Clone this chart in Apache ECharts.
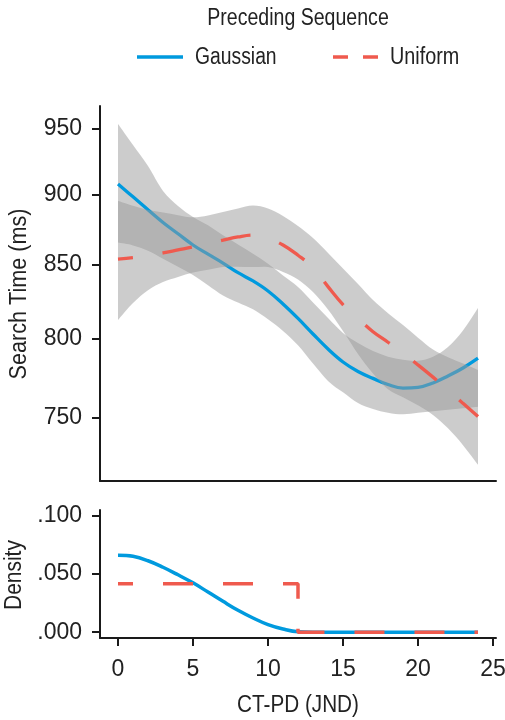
<!DOCTYPE html>
<html>
<head>
<meta charset="utf-8">
<script src="https://cdn.jsdelivr.net/npm/echarts@6/dist/echarts.min.js"></script>
<style>html,body{margin:0;padding:0;background:#fff}#c{width:505px;height:720px}</style>
</head>
<body>
<div id="c"></div>
<script>
// ---- data ----
const ctpd = [0,1,2,3,4,5,6,7,8,9,10,11,12,13,14,15,16,17,18,19,20,21,22,23,24];
const gaussianMean  = [908.1,898.6,889.1,879.9,871.8,863.8,857.3,851.1,844.4,838.7,831.8,823.0,813.3,803.0,793.2,784.8,778.7,774.3,770.4,768.1,768.6,771.4,775.8,780.9,787.2];
const gaussianUpper = [953.9,937.6,921.6,902.9,891.9,883.9,877.9,870.7,864.2,857.7,850.7,842.5,834.6,824.0,813.6,803.7,797.1,791.8,788.2,786.2,785.6,788.2,794.5,805.3,820.3];
const gaussianLower = [865.5,863.5,859.7,854.1,848.6,842.8,835.8,828.8,824.0,819.4,812.7,805.0,795.6,783.8,772.7,765.5,758.8,755.1,752.8,751.8,752.7,753.7,754.6,755.5,756.5];
const uniformMean   = [853.9,854.9,856.4,858.2,860.3,862.4,864.9,867.2,869.5,870.9,868.5,863.8,856.6,848.0,834.8,822.6,813.3,804.5,797.6,790.6,782.9,775.1,767.1,758.6,750.4];
const uniformUpper  = [895.5,892.0,888.9,887.1,885.2,883.6,885.0,887.5,890.0,892.2,890.0,884.6,877.4,868.8,858.2,847.3,836.6,825.7,816.8,808.9,800.5,792.8,787.8,783.8,779.7];
const uniformLower  = [812.3,823.7,832.4,838.0,841.4,844.5,846.4,848.3,848.5,848.3,848.3,844.9,839.7,831.1,819.3,805.0,790.0,777.4,767.4,762.4,757.4,751.4,743.2,733.0,721.3];
const gaussianDensity = [0.0661,0.0652,0.0614,0.0558,0.0493,0.0424,0.0345,0.0265,0.0188,0.0122,0.0065,0.0027,0.0003,0,0,0,0,0,0,0,0,0,0,0,0];
const uniformDensityX = [0,12,12,24];
const uniformDensity  = [0.0417,0.0417,0,0];
const searchTimeTicks = [750,800,850,900,950];
const densityTicks = [0,0.05,0.1];
const ctpdTicks = [0,5,10,15,20,25];

// ---- styling ----
const FONT = "'Liberation Sans','Arimo',Arial,sans-serif";
const FS = 23;
const TXT = '#222222';
const AX = '#1a1a1a';
const BLUE = '#009ADE';
const RED = '#EF5A4E';
const BAND = '#999999';

function pairs(xs, ys){ return xs.map((x,i)=>[x, ys[i]]); }

// smooth (Catmull-Rom -> cubic Bezier) path through pixel points
function curveTo(pts){
  let d = '';
  for (let i = 0; i < pts.length - 1; i++){
    const p0 = pts[Math.max(i-1,0)], p1 = pts[i], p2 = pts[i+1], p3 = pts[Math.min(i+2,pts.length-1)];
    const c1 = [p1[0] + (p2[0]-p0[0])/6, p1[1] + (p2[1]-p0[1])/6];
    const c2 = [p2[0] - (p3[0]-p1[0])/6, p2[1] - (p3[1]-p1[1])/6];
    d += ' C' + c1[0] + ',' + c1[1] + ' ' + c2[0] + ',' + c2[1] + ' ' + p2[0] + ',' + p2[1];
  }
  return d;
}
function band(name, lower, upper, z){
  return {
    name:name, type:'custom', xAxisIndex:0, yAxisIndex:0, z:z, silent:true,
    data: ctpd.map((x,i)=>[x, lower[i], upper[i]]),
    encode:{x:0, y:[1,2]},
    renderItem:function(params, api){
      if (params.dataIndex !== 0) return null;
      const up = ctpd.map((x,i)=>api.coord([x, upper[i]]));
      const lo = ctpd.map((x,i)=>api.coord([x, lower[i]])).reverse();
      const d = 'M' + up[0][0] + ',' + up[0][1] + curveTo(up) +
                ' L' + lo[0][0] + ',' + lo[0][1] + curveTo(lo) + ' Z';
      return {type:'path', shape:{pathData:d}, style:{fill:BAND, opacity:0.5, stroke:null}};
    }
  };
}

const axisLineStyle = {show:true, onZero:false, lineStyle:{color:AX, width:2}};
const tickStyle = {length:8, lineStyle:{color:AX, width:2}};
const labelStyle = {color:TXT, fontSize:FS, fontFamily:FONT};
const txt = (text, x, y, align, sx, rot) => ({
  type:'text', x:x, y:y, rotation:rot||0, scaleX:sx, scaleY:1, silent:true,
  style:{text:text, x:0, y:0, textAlign:align, textVerticalAlign:'middle', fill:TXT, font:FS+'px '+FONT}
});

const chart = echarts.init(document.getElementById('c'), null, {renderer:'canvas'});
chart.setOption({
  animation:false,
  backgroundColor:'#ffffff',
  grid:[
    {left:100, top:106, width:396, height:375, containLabel:false, outerBoundsMode:'none'},
    {left:100, top:510, width:396, height:128, containLabel:false, outerBoundsMode:'none'}
  ],
  xAxis:[
    {type:'value', gridIndex:0, min:-1.2, max:25.2, axisLine:axisLineStyle,
     axisTick:{show:false}, axisLabel:{show:false}, splitLine:{show:false}},
    {type:'value', gridIndex:1, min:-1.2, max:25.2, axisLine:axisLineStyle,
     axisTick:Object.assign({show:true, customValues:ctpdTicks}, tickStyle),
     axisLabel:Object.assign({show:true, customValues:ctpdTicks, margin:20}, labelStyle),
     splitLine:{show:false}}
  ],
  yAxis:[
    {type:'log', logBase:10, gridIndex:0, min:711.8, max:968.1, axisLine:axisLineStyle,
     axisTick:Object.assign({show:true, customValues:searchTimeTicks}, tickStyle),
     axisLabel:Object.assign({show:true, customValues:searchTimeTicks, margin:18}, labelStyle),
     splitLine:{show:false}, minorTick:{show:false}},
    {type:'value', gridIndex:1, min:-0.005, max:0.105, axisLine:axisLineStyle,
     axisTick:Object.assign({show:true, customValues:densityTicks}, tickStyle),
     axisLabel:Object.assign({show:true, customValues:densityTicks, margin:18,
       formatter:v=>v.toFixed(3).replace(/^0/,'')}, labelStyle),
     splitLine:{show:false}}
  ],
  graphic:[
    txt('Preceding Sequence', 298, 19, 'center', 0.85),
    {type:'line', silent:true, shape:{x1:137,y1:57,x2:183,y2:57}, style:{stroke:BLUE, lineWidth:3.5}},
    txt('Gaussian', 195, 58, 'left', 0.84),
    {type:'line', silent:true, shape:{x1:333,y1:57,x2:378,y2:57}, style:{stroke:RED, lineWidth:3.5, lineDash:[15,15]}},
    txt('Uniform', 390, 58, 'left', 0.86),
    txt('Search Time (ms)', 20, 294, 'center', 0.94, Math.PI/2),
    txt('Density', 15, 575, 'center', 0.91, Math.PI/2),
    txt('CT-PD (JND)', 298, 706, 'center', 0.9)
  ],
  series:[
    band('gaussianBand', gaussianLower, gaussianUpper, 1),
    {name:'Gaussian', type:'line', xAxisIndex:0, yAxisIndex:0, data:pairs(ctpd, gaussianMean),
     smooth:0.4, symbol:'none', lineStyle:{color:BLUE, width:3.3}, z:2, silent:true},
    band('uniformBand', uniformLower, uniformUpper, 3),
    {name:'Uniform', type:'line', xAxisIndex:0, yAxisIndex:0, data:pairs(ctpd, uniformMean),
     smooth:0.4, symbol:'none', lineStyle:{color:RED, width:3.3, type:[30,30], dashOffset:15}, z:4, silent:true},
    {name:'Gaussian density', type:'line', xAxisIndex:1, yAxisIndex:1, data:pairs(ctpd, gaussianDensity),
     smooth:0.4, symbol:'none', lineStyle:{color:BLUE, width:3.5}, z:2, silent:true},
    {name:'Uniform density', type:'line', xAxisIndex:1, yAxisIndex:1, data:pairs(uniformDensityX, uniformDensity),
     smooth:false, symbol:'none', lineStyle:{color:RED, width:3.5, type:[30,30], dashOffset:15}, z:4, silent:true}
  ]
});
</script>
</body>
</html>
